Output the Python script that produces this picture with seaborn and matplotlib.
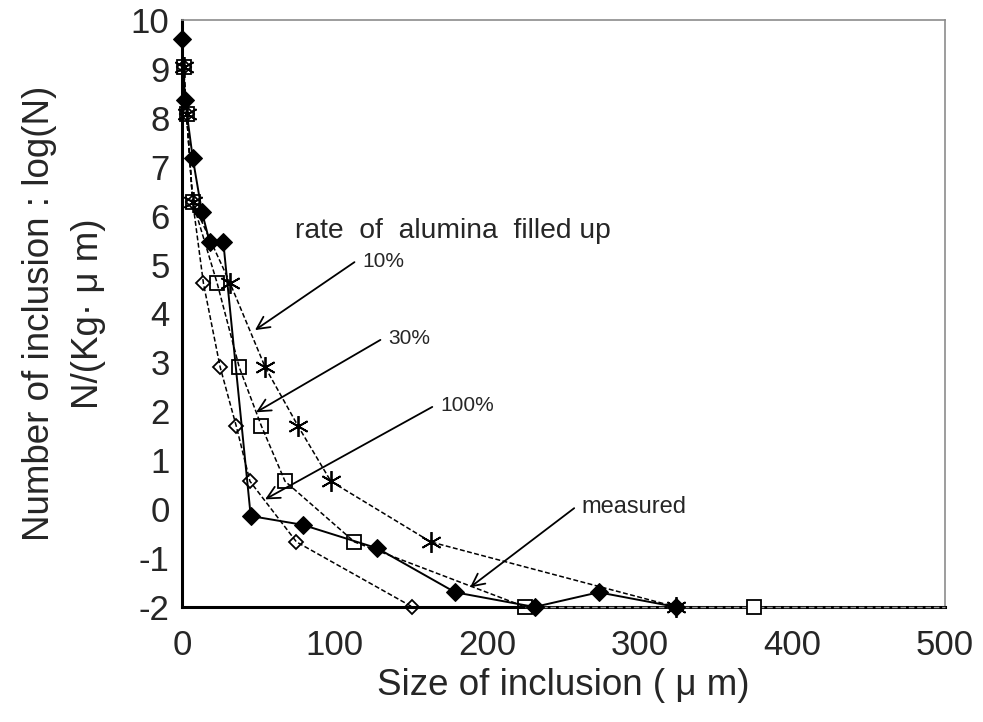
import matplotlib
matplotlib.use("Agg")
import matplotlib.pyplot as plt
import seaborn as sns
import pandas as pd

# ---- data ----
measured_x = [0, 2, 7, 13, 18, 27, 45, 79, 128, 179, 231, 273, 324]
measured_y = [9.62, 8.36, 7.18, 6.08, 5.47, 5.47, -0.14, -0.32, -0.80, -1.70, -2.0, -1.70, -2.0]

sim_y = [9.03, 8.08, 6.28, 4.62, 2.90, 1.70, 0.57, -0.67, -2.0]
x_100 = [1, 3, 7, 14, 25, 35.5, 44.5, 75, 151]
x_30 = [1, 3, 7, 23, 37.5, 52, 67.5, 113, 225]
x_10 = [1, 3, 7, 31.5, 54.5, 76, 97.5, 163, 324]
x_30_tail = [225, 375, 500]
y_30_tail = [-2.0, -2.0, -2.0]

x_ticks = [0, 100, 200, 300, 400, 500]
y_ticks = list(range(-2, 11))

# annotations: (label, text xy, arrow tip xy, fontsize)
annots = [
    ("10%", (113, 5.05), (47.8, 3.66), 15),
    ("30%", (130, 3.46), (48.5, 1.98), 15),
    ("100%", (164, 2.09), (54.4, 0.20), 15),
    ("measured", (257, 0.02), (188.7, -1.60), 17),
]

sns.set_style("white")
plt.rcParams["font.family"] = ["Liberation Sans", "DejaVu Sans"]

fig = plt.figure(figsize=(9.83, 7.22), dpi=100)
ax = fig.add_axes([0.1852, 0.1593, 0.9613 - 0.1852, 0.9723 - 0.1593])

dash = (3.2, 1.6)
df100 = pd.DataFrame({"x": x_100, "y": sim_y})
df30 = pd.DataFrame({"x": x_30, "y": sim_y})
df10 = pd.DataFrame({"x": x_10, "y": sim_y})
dft = pd.DataFrame({"x": x_30_tail, "y": y_30_tail})
dfm = pd.DataFrame({"x": measured_x, "y": measured_y})

sns.lineplot(data=dft, x="x", y="y", ax=ax, sort=False, color="#9a9a9a",
             lw=1.0, dashes=False, linestyle=(0, (4, 2)), zorder=4, clip_on=False)
for d, mk, ms in [(df10, (6, 2, 0), 15), (df30, "s", 10), (df100, "D", 7)]:
    sns.lineplot(data=d, x="x", y="y", ax=ax, sort=False, color="black",
                 lw=1.1, linestyle=(0, dash), marker=mk, markersize=ms,
                 markerfacecolor="none", markeredgecolor="black",
                 markeredgewidth=1.3, zorder=5, clip_on=False)
# square marker at 375
ax.plot([375], [-2.0], marker="s", ms=10, mfc="white", mec="black", mew=1.3,
        ls="none", zorder=6, clip_on=False)
sns.lineplot(data=dfm, x="x", y="y", ax=ax, sort=False, color="black",
             lw=1.4, marker="D", markersize=9, markerfacecolor="black",
             markeredgecolor="black", zorder=7, clip_on=False)

ax.set_xlim(0, 500)
ax.set_ylim(-2, 10)
ax.set_xticks(x_ticks)
ax.set_yticks(y_ticks)
ax.set_yticklabels([f"{v}" if v >= 0 else f"-{abs(v)}" for v in y_ticks])
ax.tick_params(axis="both", direction="in", labelsize=25, color="black",
               width=1.3, length=7)
ax.tick_params(axis="y", pad=9)
ax.tick_params(axis="x", pad=16)

for s in ["left", "bottom"]:
    ax.spines[s].set_color("black")
    ax.spines[s].set_linewidth(2.2)
for s in ["top", "right"]:
    ax.spines[s].set_color("#8c8c8c")
    ax.spines[s].set_linewidth(1.2)

ax.set_xlabel("Size of inclusion ( μ m)", fontsize=26.5, labelpad=4)
ax.set_ylabel("Number of inclusion : log(N)\nN/(Kg· μ m)", fontsize=26.5,
              linespacing=1.5, labelpad=18)

ax.text(74, 5.69, "rate  of  alumina  filled up", fontsize=20.3, ha="left",
        va="center")
for lab, txy, tip, fs in annots:
    ax.annotate("", xy=tip, xytext=txy,
                arrowprops=dict(arrowstyle="->,head_length=0.9,head_width=0.45",
                                color="black", lw=1.3, shrinkA=0, shrinkB=0))
    ax.text(txy[0] + 5, txy[1] + 0.02, lab, fontsize=fs, ha="left", va="center")

fig.savefig("out.png", dpi=100)
